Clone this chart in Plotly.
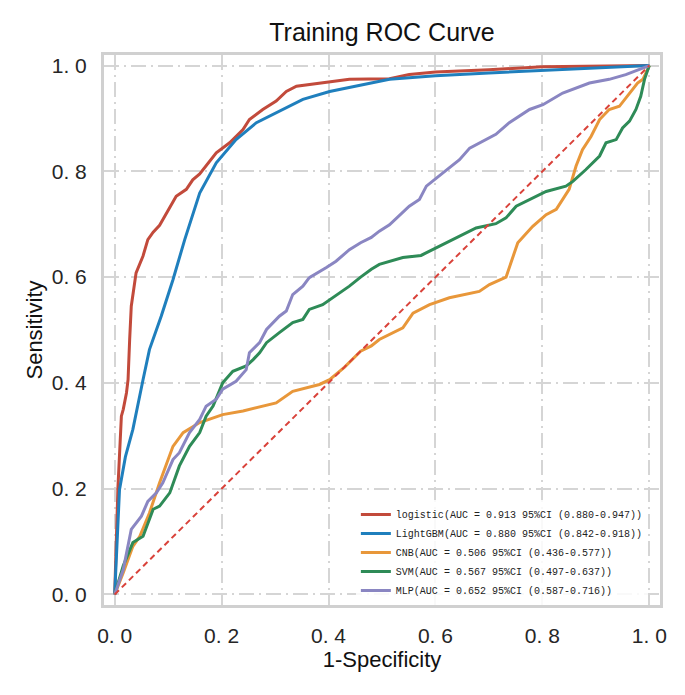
import plotly.graph_objects as go

# ---- data ----
logistic_fpr = [0, 0.006, 0.0125, 0.016, 0.022, 0.025, 0.028, 0.031, 0.04, 0.053, 0.062, 0.072, 0.084, 0.097,
                0.115, 0.134, 0.146, 0.159, 0.171, 0.19, 0.215, 0.24, 0.252, 0.277, 0.302, 0.321, 0.34,
                0.389, 0.439, 0.514, 0.551, 0.6, 0.7, 0.8, 0.9, 1.0]
logistic_tpr = [0, 0.2, 0.337, 0.35, 0.381, 0.406, 0.482, 0.545, 0.608, 0.64, 0.671, 0.685, 0.698, 0.722,
                0.753, 0.766, 0.784, 0.795, 0.81, 0.835, 0.854, 0.879, 0.898, 0.917, 0.933, 0.951, 0.961,
                0.968, 0.974, 0.975, 0.983, 0.988, 0.992, 0.998, 0.999, 1.0]

lgbm_fpr = [0, 0.005, 0.009, 0.02, 0.034, 0.053, 0.065, 0.087, 0.109, 0.131, 0.159, 0.19, 0.227, 0.265,
            0.302, 0.352, 0.402, 0.452, 0.514, 0.551, 0.6, 0.7, 0.8, 0.9, 1.0]
lgbm_tpr = [0, 0.12, 0.198, 0.26, 0.312, 0.406, 0.463, 0.526, 0.595, 0.671, 0.759, 0.816, 0.86, 0.892,
            0.911, 0.936, 0.951, 0.961, 0.974, 0.977, 0.981, 0.986, 0.991, 0.995, 1.0]

cnb_fpr = [0, 0.016, 0.034, 0.047, 0.065, 0.084, 0.109, 0.128, 0.159, 0.202, 0.24, 0.277, 0.302, 0.333,
           0.383, 0.402, 0.43, 0.46, 0.48, 0.495, 0.539, 0.558, 0.589, 0.626, 0.657, 0.682, 0.701, 0.732,
           0.754, 0.782, 0.807, 0.826, 0.85, 0.863, 0.875, 0.891, 0.907, 0.925, 0.944, 0.963, 0.978, 0.988, 1.0]
cnb_tpr = [0, 0.041, 0.091, 0.11, 0.154, 0.211, 0.28, 0.306, 0.325, 0.34, 0.347, 0.356, 0.362, 0.384,
           0.397, 0.406, 0.43, 0.46, 0.47, 0.482, 0.504, 0.532, 0.548, 0.561, 0.567, 0.573, 0.586, 0.6,
           0.665, 0.696, 0.718, 0.728, 0.766, 0.81, 0.841, 0.866, 0.898, 0.917, 0.923, 0.948, 0.967, 0.974, 1.0]

svm_fpr = [0, 0.016, 0.034, 0.053, 0.072, 0.084, 0.103, 0.121, 0.14, 0.159, 0.171, 0.184, 0.202, 0.221,
           0.246, 0.259, 0.271, 0.284, 0.308, 0.333, 0.352, 0.364, 0.389, 0.408, 0.439, 0.46, 0.48, 0.495,
           0.514, 0.539, 0.573, 0.589, 0.614, 0.651, 0.676, 0.713, 0.732, 0.751, 0.788, 0.807, 0.844, 0.857,
           0.881, 0.907, 0.919, 0.938, 0.95, 0.963, 0.975, 0.984, 0.991, 1.0]
svm_tpr = [0, 0.054, 0.098, 0.11, 0.161, 0.167, 0.192, 0.243, 0.28, 0.306, 0.337, 0.356, 0.4, 0.422,
           0.432, 0.444, 0.457, 0.476, 0.495, 0.514, 0.52, 0.539, 0.548, 0.561, 0.583, 0.6, 0.615, 0.624,
           0.63, 0.637, 0.641, 0.649, 0.662, 0.681, 0.693, 0.701, 0.712, 0.734, 0.753, 0.762, 0.772, 0.781,
           0.803, 0.829, 0.854, 0.86, 0.882, 0.895, 0.917, 0.942, 0.974, 1.0]

mlp_fpr = [0, 0.016, 0.031, 0.05, 0.062, 0.078, 0.09, 0.109, 0.121, 0.14, 0.159, 0.171, 0.19, 0.202,
           0.227, 0.246, 0.252, 0.271, 0.284, 0.308, 0.321, 0.333, 0.352, 0.364, 0.396, 0.414, 0.439, 0.46,
           0.48, 0.495, 0.514, 0.539, 0.551, 0.57, 0.583, 0.614, 0.645, 0.664, 0.695, 0.713, 0.738, 0.776,
           0.801, 0.838, 0.888, 0.925, 0.956, 0.981, 1.0]
mlp_tpr = [0, 0.047, 0.123, 0.148, 0.176, 0.192, 0.211, 0.255, 0.268, 0.306, 0.331, 0.356, 0.369, 0.388,
           0.403, 0.425, 0.457, 0.476, 0.501, 0.526, 0.536, 0.567, 0.583, 0.599, 0.618, 0.63, 0.652, 0.665,
           0.675, 0.687, 0.699, 0.722, 0.734, 0.747, 0.772, 0.797, 0.822, 0.844, 0.86, 0.87, 0.892, 0.917,
           0.926, 0.948, 0.967, 0.974, 0.983, 0.992, 1.0]

diag = [0, 1]

names = ["logistic(AUC = 0.913 95%CI (0.880-0.947))",
         "LightGBM(AUC = 0.880 95%CI (0.842-0.918))",
         "CNB(AUC = 0.506 95%CI (0.436-0.577))",
         "SVM(AUC = 0.567 95%CI (0.497-0.637))",
         "MLP(AUC = 0.652 95%CI (0.587-0.716))"]
colors = ["#c24a3b", "#1f7fbd", "#e8973a", "#2e8b57", "#8a86c2"]

tick_vals = [0, 0.2, 0.4, 0.6, 0.8, 1.0]
tick_text = ["0. 0", "0. 2", "0. 4", "0. 6", "0. 8", "1. 0"]

series = [(logistic_fpr, logistic_tpr), (lgbm_fpr, lgbm_tpr), (cnb_fpr, cnb_tpr),
          (svm_fpr, svm_tpr), (mlp_fpr, mlp_tpr)]

fig = go.Figure()
for (fx, ty), name, col in zip(series, names, colors):
    fig.add_trace(go.Scatter(x=fx, y=ty, mode="lines", name=name,
                             line=dict(color=col, width=3)))
fig.add_trace(go.Scatter(x=diag, y=diag, mode="lines", showlegend=False,
                         line=dict(color="#d9423a", width=2, dash="6px,4px")))

FONT = "Liberation Sans, Arial"
axis_common = dict(
    range=[-0.02, 1.02], tickvals=tick_vals, ticktext=tick_text,
    showgrid=True, gridcolor="#d5d5d5", gridwidth=2, griddash="15px,5px,2px,5px",
    zeroline=False, showline=True, linecolor="#d0d0d0", linewidth=3, mirror=True,
    ticks="", tickfont=dict(family=FONT, size=21, color="#262626"),
)

fig.update_layout(
    width=677, height=687,
    margin=dict(l=96, r=25, t=47, b=90),
    paper_bgcolor="white", plot_bgcolor="white",
    title=dict(text="Training ROC Curve", x=0.5, xanchor="center", y=0.965, yanchor="middle",
               xref="paper", font=dict(family=FONT, size=25, color="#111")),
    xaxis=dict(**axis_common, ticklabelstandoff=10,
               title=dict(text="1-Specificity", standoff=2,
                          font=dict(family=FONT, size=22, color="#111"))),
    yaxis=dict(**axis_common, ticklabelstandoff=10,
               title=dict(text="Sensitivity", standoff=4,
                          font=dict(family=FONT, size=22, color="#111"))),
    legend=dict(x=0.453, y=0.191, xanchor="left", yanchor="top",
                bgcolor="rgba(255,255,255,0.85)", borderwidth=0,
                font=dict(family="Liberation Mono, DejaVu Sans Mono", size=10, color="#222"),
                tracegroupgap=0, itemwidth=30),
    showlegend=True,
)

fig.write_html("out.html")
